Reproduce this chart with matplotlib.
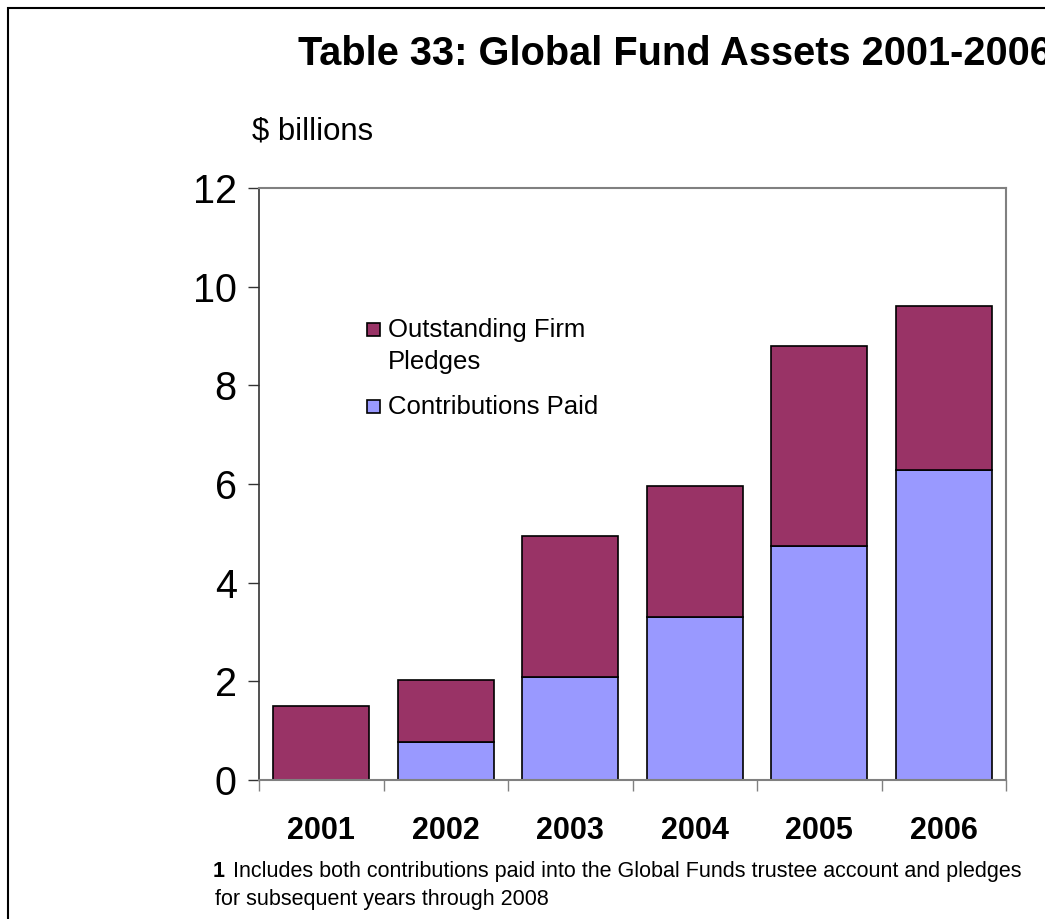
import numpy as np
import matplotlib
matplotlib.use('Agg')
import matplotlib.pyplot as plt
from matplotlib.patches import Rectangle

plt.rcParams['font.family'] = ['Liberation Sans', 'DejaVu Sans']

# data ($ billions)
years = ['2001', '2002', '2003', '2004', '2005', '2006']
contributions_paid = [0.0, 0.77, 2.09, 3.30, 4.74, 6.28]
outstanding_pledges = [1.50, 1.26, 2.86, 2.66, 4.06, 3.33]
yticks = [0, 2, 4, 6, 8, 10, 12]

PAID_COLOR = '#9999FF'
PLEDGE_COLOR = '#993366'

W, H = 1045, 919
fig = plt.figure(figsize=(W / 100, H / 100), dpi=100)
ax = fig.add_axes([259 / W, 1 - 780 / H, (1006 - 259) / W, (780 - 188) / H])

x = np.arange(len(years))
w = 0.77
ax.bar(x, contributions_paid, width=w, color=PAID_COLOR, edgecolor='black',
       linewidth=1.2, zorder=2)
ax.bar(x, outstanding_pledges, width=w, bottom=contributions_paid, color=PLEDGE_COLOR,
       edgecolor='black', linewidth=1.2, zorder=2)

ax.set_xlim(-0.5, len(years) - 0.5)
ax.set_ylim(0, 12)
ax.set_yticks(yticks)
ax.set_yticklabels([str(v) for v in yticks], fontsize=28.5)
ax.tick_params(axis='y', direction='out', length=8, width=1, color='#333333', pad=8)

# x ticks sit on category boundaries, labels centred under bars
ax.set_xticks(x)
ax.set_xticklabels(years, fontsize=22, fontweight='bold')
ax.tick_params(axis='x', which='major', length=0, pad=26)
ax.set_xticks(np.arange(-0.5, len(years)), minor=True)
ax.tick_params(axis='x', which='minor', direction='out', length=8, width=1, color='#808080')

for side in ['top', 'right', 'bottom']:
    ax.spines[side].set_color('#808080')
    ax.spines[side].set_linewidth(1.5)
ax.spines['left'].set_color('#333333')
ax.spines['left'].set_linewidth(1.2)

# legend drawn by hand: the square sits on the first line of a wrapped label
legend_items = [(['Outstanding Firm', 'Pledges'], PLEDGE_COLOR, 329),
                (['Contributions Paid'], PAID_COLOR, 406)]
for lines, color, ypix in legend_items:
    fig.add_artist(Rectangle((367 / W, 1 - (ypix + 6.5) / H), 13 / W, 13 / H,
                             transform=fig.transFigure, facecolor=color,
                             edgecolor='black', linewidth=1.2))
    for i, line in enumerate(lines):
        fig.text(388 / W, 1 - (ypix + 8 + 32 * i) / H, line, fontsize=18.5,
                 ha='left', va='baseline')

fig.text(298 / W, 1 - 65 / H, 'Table 33: Global Fund Assets 2001-2006',
         fontsize=28.6, fontweight='bold', ha='left', va='baseline')
fig.text(252 / W, 1 - 140 / H, '$ billions', fontsize=22.4, ha='left', va='baseline')

fig.text(213 / W, 1 - 877 / H, '1', fontsize=15.5, fontweight='bold',
         ha='left', va='baseline')
fig.text(233 / W, 1 - 877 / H,
         'Includes both contributions paid into the Global Funds trustee account and pledges',
         fontsize=15.5, ha='left', va='baseline')
fig.text(215 / W, 1 - 905 / H, 'for subsequent years through 2008',
         fontsize=15.5, ha='left', va='baseline')

# outer frame of the chart object, cut off by the image edge on right and bottom
fig.patches.append(Rectangle((8 / W, -0.05), 1.1, 1 - 8 / H + 0.05,
                             transform=fig.transFigure, fill=False,
                             edgecolor='black', linewidth=1.5))

plt.savefig('out.png', dpi=100)
